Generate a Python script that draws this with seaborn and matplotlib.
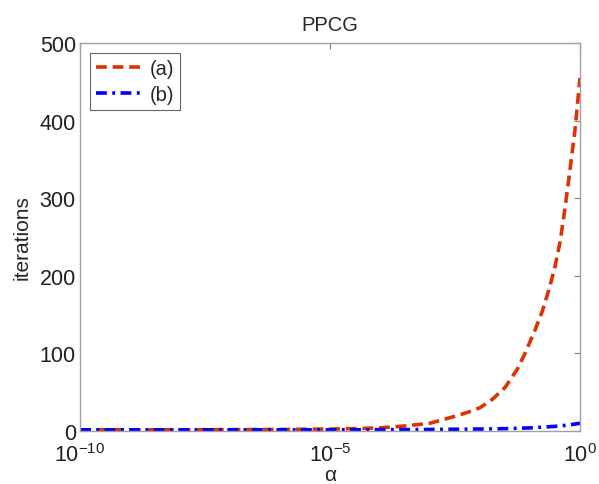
import numpy as np
import pandas as pd
import seaborn as sns
import matplotlib
matplotlib.use("Agg")
import matplotlib.pyplot as plt
from matplotlib.ticker import FixedLocator, NullLocator

# log10(alpha) sample points
log_alpha_a = [-10, -8, -6, -5, -4.5, -4, -3.5, -3, -2.5, -2.25, -2, -1.75, -1.5,
               -1.25, -1.1, -1, -0.9, -0.75, -0.6, -0.5, -0.4, -0.3, -0.2, -0.1, 0]
iters_a = [1.5, 1.5, 2, 2.5, 3, 4, 6.5, 10, 19, 24, 30, 41, 56,
           80, 100, 115, 130, 155, 187, 212, 243, 287, 337, 388, 455]

log_alpha_b = [-10, -7, -5, -4, -3, -2, -1.5, -1, -0.5, -0.25, 0]
iters_b = [1.5, 1.5, 1.5, 1.7, 2, 2.5, 3, 4, 6, 7.5, 10]

sns.set_style("white")
plt.rcParams['font.family'] = ['Liberation Sans', 'DejaVu Sans']
plt.rcParams['mathtext.fontset'] = 'custom'
plt.rcParams['mathtext.rm'] = 'Liberation Sans'
plt.rcParams['mathtext.it'] = 'Liberation Sans:italic'
plt.rcParams['mathtext.bf'] = 'Liberation Sans:bold'

df = pd.concat([
    pd.DataFrame({"alpha": 10.0 ** np.array(log_alpha_a), "iterations": iters_a, "run": "(a)"}),
    pd.DataFrame({"alpha": 10.0 ** np.array(log_alpha_b), "iterations": iters_b, "run": "(b)"}),
])

fig = plt.figure(figsize=(5.99, 4.85), dpi=100)
ax = fig.add_axes([80 / 599, 1 - 432 / 485, 500 / 599, 388 / 485])

sns.lineplot(data=df, x="alpha", y="iterations", hue="run", style="run",
             palette={"(a)": "#dd3300", "(b)": "#0000ff"},
             dashes={"(a)": (3, 1.6), "(b)": (3, 1.5, 0.8, 1.5)},
             linewidth=2.6, ax=ax)

ax.set_xscale("log")
ax.set_xlim(1e-10, 1)
ax.set_ylim(0, 500)
ax.xaxis.set_major_locator(FixedLocator([1e-10, 1e-5, 1]))
ax.xaxis.set_minor_locator(NullLocator())
ax.set_yticks([0, 100, 200, 300, 400, 500])

for s in ax.spines.values():
    s.set_visible(True)
    s.set_color("#a0a0a0")
    s.set_linewidth(1.0)
ax.tick_params(direction="in", length=4, color="#808080", labelsize=15.5,
               top=True, right=True, labelcolor="#202020")
ax.tick_params(axis="y", pad=3)
ax.tick_params(axis="x", pad=9)

ax.set_title("PPCG", fontsize=14.5, pad=9)
ax.set_xlabel("α", fontsize=15, labelpad=-1)
ax.set_ylabel("iterations", fontsize=15, labelpad=6)

leg = ax.legend(loc="upper left", fontsize=14.5, frameon=True, fancybox=False,
                handlelength=2.4, handletextpad=0.25, borderpad=0.3,
                labelspacing=0.35, borderaxespad=0.5)
leg.get_frame().set_edgecolor("#404040")
leg.get_frame().set_linewidth(0.8)

fig.savefig("out.png", dpi=100)
